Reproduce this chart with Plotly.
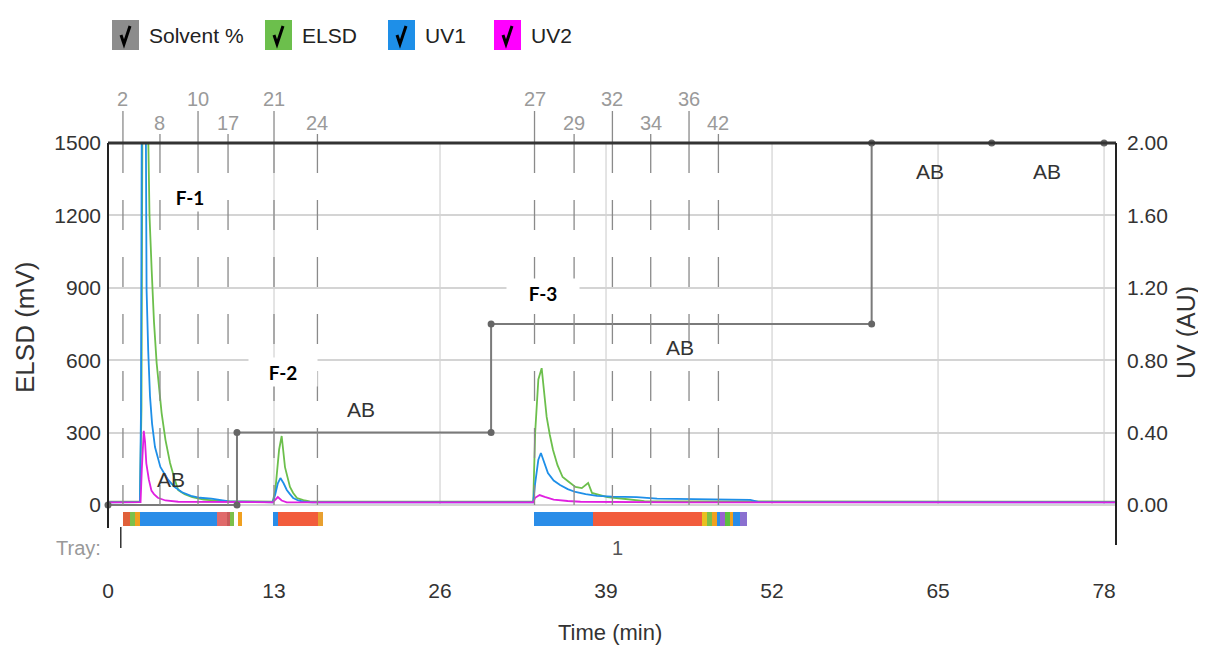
import plotly.graph_objects as go

# ---------------- data ----------------
elsd_t = [0, 1.0, 2.5, 2.62, 2.7, 3.1, 3.25, 3.42, 3.6, 3.81, 4.0, 4.2, 4.5, 4.86, 5.2, 5.5, 6.0, 6.6, 7.5, 9.0,
          12.9, 13.1, 13.4, 13.6, 13.86, 14.05, 14.25, 14.5, 14.8, 15.3, 15.8, 20, 26,
          33.3, 33.45, 33.7, 33.96, 34.1, 34.35, 34.6, 34.85, 35.2, 35.6, 36.1, 36.6, 37.1, 37.4, 37.6, 37.9,
          38.5, 39.1, 40.0, 41.0, 42, 50, 60, 70, 78.9]
elsd_mv = [14, 14, 15, 400, 1700, 1700, 1200, 974, 760, 588, 470, 381, 270, 174, 110, 62, 45, 33, 22, 16,
           14, 60, 230, 286, 157, 110, 75, 50, 29, 20, 15, 14, 14,
           14, 300, 520, 567, 500, 365, 290, 228, 165, 116, 95, 75, 70, 85, 91, 50,
           40, 33, 28, 22, 16, 15, 14, 14, 14]

uv1_t = [0, 1.0, 2.5, 2.58, 2.65, 2.95, 3.02, 3.15, 3.29, 3.45, 3.68, 4.1, 4.7, 5.2, 5.8, 6.5, 7.2, 8.1, 8.6, 9.5,
         12.9, 13.1, 13.3, 13.5, 13.75, 14.0, 14.25, 14.5, 14.9, 15.3, 16, 20, 26,
         33.3, 33.45, 33.7, 33.9, 34.1, 34.45, 34.9, 35.4, 36.0, 36.6, 37.4, 38.3, 39.5, 41.4, 43, 46, 49, 50.3,
         51, 60, 70, 78.9]
uv1_au = [0.015, 0.015, 0.016, 0.5, 2.3, 2.3, 1.19, 0.85, 0.60, 0.45, 0.32, 0.21, 0.14, 0.10, 0.07, 0.05, 0.04,
          0.035, 0.03, 0.02,
          0.015, 0.06, 0.12, 0.149, 0.12, 0.083, 0.06, 0.039, 0.025, 0.018, 0.015, 0.015, 0.015,
          0.015, 0.12, 0.25, 0.287, 0.25, 0.177, 0.135, 0.11, 0.088, 0.072, 0.06, 0.05, 0.046, 0.044, 0.035,
          0.032, 0.03, 0.028, 0.016, 0.015, 0.015, 0.015]

uv2_t = [0, 1.0, 2.55, 2.65, 2.8, 2.9, 3.0, 3.2, 3.4, 3.6, 3.9, 4.5, 5.5,
         12.9, 13.1, 13.3, 13.6, 14.0, 20,
         33.3, 33.45, 33.8, 34.2, 34.9, 36.0, 37.0, 45, 60, 78.9]
uv2_au = [0.015, 0.015, 0.016, 0.2, 0.41, 0.35, 0.23, 0.14, 0.08, 0.06, 0.04, 0.025, 0.018,
          0.015, 0.03, 0.044, 0.025, 0.015, 0.015,
          0.015, 0.04, 0.055, 0.045, 0.03, 0.022, 0.018, 0.015, 0.015, 0.015]

solvent_t = [0, 10.1, 10.1, 30.0, 30.0, 59.8, 59.8, 69.2, 78.0]
solvent_pct = [0, 0, 20, 20, 50, 50, 100, 100, 100]

step_labels = ["AB", "AB", "AB", "AB", "AB"]
step_label_t = [4.9, 19.8, 44.8, 64.4, 73.5]
step_label_mv = [104, 394, 651, 1380, 1380]

fraction_ids = ["2", "8", "10", "17", "21", "24", "27", "29", "32", "34", "36", "42"]
fraction_t = [1.17, 4.07, 7.05, 9.4, 13.0, 16.4, 33.4, 36.5, 39.5, 42.5, 45.5, 47.8]

peak_labels = ["F-1", "F-2", "F-3"]
peak_label_t = [6.4, 13.7, 34.1]
peak_label_mv = [1276, 551, 878]

tray_start = [1.17, 1.72, 2.11, 2.51, 8.54, 9.32, 9.55, 10.18,
              12.92, 13.31, 16.44,
              33.36, 37.98, 46.52, 46.91, 47.30, 47.69, 47.93, 48.32, 48.71, 48.94, 49.49]
tray_end = [1.72, 2.11, 2.51, 8.54, 9.32, 9.55, 9.87, 10.49,
            13.31, 16.44, 16.84,
            37.98, 46.52, 46.91, 47.30, 47.69, 47.93, 48.32, 48.71, 48.94, 49.49, 50.04]
tray_color = ["#e0603a", "#7cc04a", "#f0a020", "#2a8de8", "#e06a6a", "#c85a5a", "#7cc04a", "#f0a020",
              "#2a8de8", "#f25c3c", "#e8a030",
              "#2a8de8", "#f25c3c", "#e8c020", "#7cc04a", "#f0a020", "#2a8de8", "#9a60d0", "#5cc040",
              "#f0a020", "#2a8de8", "#8a70d0"]
tray_number = "1"
tray_number_t = 39.9
tray_tick_t = 1.0

x_ticks = [0, 13, 26, 39, 52, 65, 78]
elsd_ticks = [0, 300, 600, 900, 1200, 1500]
uv_ticks = [0, 0.4, 0.8, 1.2, 1.6, 2.0]

legend_names = ["Solvent %", "ELSD", "UV1", "UV2"]
legend_colors = ["#8c8c8c", "#6cbf4c", "#1e8fe8", "#ff00ff"]

# ---------------- layout geometry ----------------
# the page body adds an 8px margin, so screen px = figure px + 8
OFF = 8
W, H = 1206 - OFF, 645 - OFF
SL, SR, ST, SB = 108, 1116, 143, 572          # plot area in screen pixels
L, R, T, B = SL - OFF, SR - OFF, ST - OFF, SB - OFF
ZERO_PX = 505                                  # screen px of the zero line
X_MAX = (SR - SL) / 12.77


def pxx(spx):
    return (spx - SL) / (SR - SL)


def pxy(spy):
    return (SB - spy) / (SB - ST)


below = (SB - ZERO_PX) / (ZERO_PX - ST)
elsd_range = [-below * 1500, 1500]
uv_range = [-below * 2.0, 2.0]
sol_range = [-below * 100, 100]

FONT = "Liberation Sans, Arial, sans-serif"

fig = go.Figure()

# tray bar (horizontal bars in ELSD units)
mv_per_px = 1500 / (ZERO_PX - ST)
bar_top_mv = -(512 - ZERO_PX) * mv_per_px
bar_bot_mv = -(526 - ZERO_PX) * mv_per_px
fig.add_trace(go.Bar(
    orientation="h",
    base=tray_start,
    x=[e - s for s, e in zip(tray_start, tray_end)],
    y=[(bar_top_mv + bar_bot_mv) / 2] * len(tray_start),
    width=bar_top_mv - bar_bot_mv,
    marker=dict(color=tray_color, line=dict(width=0)),
    showlegend=False, hoverinfo="skip", yaxis="y",
))

fig.add_trace(go.Scatter(x=solvent_t, y=solvent_pct, yaxis="y3", mode="lines+markers",
                         line=dict(color="#7a7a7a", width=2),
                         marker=dict(color="#666666", size=7), showlegend=False, cliponaxis=False))
fig.add_trace(go.Scatter(x=elsd_t, y=elsd_mv, yaxis="y", mode="lines",
                         line=dict(color="#6cbf4c", width=1.8), showlegend=False))
fig.add_trace(go.Scatter(x=uv1_t, y=uv1_au, yaxis="y2", mode="lines",
                         line=dict(color="#1e8fe8", width=1.8), showlegend=False))
fig.add_trace(go.Scatter(x=uv2_t, y=uv2_au, yaxis="y2", mode="lines",
                         line=dict(color="#e020e0", width=1.8), showlegend=False))

shapes = []
for t in x_ticks[1:]:
    shapes.append(dict(type="line", xref="x", yref="y", x0=t, x1=t, y0=0, y1=1500,
                       line=dict(color="#d2d2d2", width=1.2), layer="below"))

annotations = []


def ann(**kw):
    kw.setdefault("showarrow", False)
    kw.setdefault("xanchor", "center")
    kw.setdefault("yanchor", "middle")
    annotations.append(kw)


# fraction markers
for i, (fid, ft) in enumerate(zip(fraction_ids, fraction_t)):
    upper = (i % 2 == 0)
    top_px = 111 if upper else 134
    lab_px = 99 if upper else 123
    shapes.append(dict(type="line", xref="x", yref="paper", x0=ft, x1=ft, y0=pxy(top_px), y1=1.0,
                       line=dict(color="#8a8a8a", width=1.3)))
    shapes.append(dict(type="line", xref="x", yref="paper", x0=ft, x1=ft, y0=1.0, y1=pxy(ZERO_PX),
                       line=dict(color="#8a8a8a", width=1.3, dash="30px,27px")))
    ann(x=ft, y=pxy(lab_px), xref="x", yref="paper", text=fid,
        font=dict(family=FONT, size=20, color="#9a9a9a"))

# frame
shapes.append(dict(type="line", xref="paper", yref="paper", x0=0, x1=1, y0=1, y1=1,
                   line=dict(color="#333333", width=3)))
shapes.append(dict(type="line", xref="paper", yref="paper", x0=0, x1=0, y0=1, y1=pxy(528),
                   line=dict(color="#222222", width=2)))
shapes.append(dict(type="line", xref="paper", yref="paper", x0=1, x1=1, y0=1, y1=pxy(545),
                   line=dict(color="#222222", width=2)))
shapes.append(dict(type="line", xref="x", yref="paper", x0=tray_tick_t, x1=tray_tick_t,
                   y0=pxy(527), y1=pxy(548), line=dict(color="#333333", width=1.5)))

# legend (coloured boxes with check marks)
leg_box_x = [112, 265, 388, 494]
for name, col, bx in zip(legend_names, legend_colors, leg_box_x):
    shapes.append(dict(type="rect", xref="paper", yref="paper", x0=pxx(bx), x1=pxx(bx + 27),
                       y0=pxy(50), y1=pxy(20), fillcolor=col, line=dict(width=0)))
    chk = "M {:.5f},{:.5f} L {:.5f},{:.5f} L {:.5f},{:.5f}".format(
        pxx(bx + 9), pxy(35), pxx(bx + 12), pxy(44), pxx(bx + 18), pxy(26))
    shapes.append(dict(type="path", xref="paper", yref="paper", path=chk,
                       line=dict(color="#000000", width=3)))
    ann(x=pxx(bx + 35), y=pxy(36), xref="paper", yref="paper", text=name, xanchor="left",
        font=dict(family=FONT, size=21, color="#222222"))

# solvent step labels
for txt, t, v in zip(step_labels, step_label_t, step_label_mv):
    ann(x=t, y=v, xref="x", yref="y", text=txt, font=dict(family=FONT, size=21, color="#333333"))

# fraction-pool labels
for txt, t, v, w in zip(peak_labels, peak_label_t, peak_label_mv, [40, 66, 70]):
    ann(x=t, y=v, xref="x", yref="y", text="<b>" + txt + "</b>", bgcolor="#ffffff", width=w, height=26,
        font=dict(family="Lato, Open Sans, sans-serif", size=19, color="#000000"))

# tray labels
ann(x=pxx(78), y=pxy(548), xref="paper", yref="paper", text="Tray:",
    font=dict(family=FONT, size=20, color="#999999"))
ann(x=tray_number_t, y=pxy(548), xref="x", yref="paper", text=tray_number,
    font=dict(family=FONT, size=20, color="#555555"))

# axis titles
ann(x=pxx(610), y=pxy(632), xref="paper", yref="paper", text="Time (min)",
    font=dict(family=FONT, size=22, color="#333333"))
ann(x=pxx(25), y=pxy(328), xref="paper", yref="paper", text="ELSD (mV)", textangle=-90,
    font=dict(family=FONT, size=26, color="#333333"))
ann(x=pxx(1186), y=pxy(333), xref="paper", yref="paper", text="UV (AU)", textangle=-90,
    font=dict(family=FONT, size=25, color="#333333"))

fig.update_layout(
    width=W, height=H,
    margin=dict(l=L, r=W - R, t=T, b=H - B, pad=0),
    paper_bgcolor="#ffffff", plot_bgcolor="#ffffff",
    showlegend=False,
    xaxis=dict(range=[0, X_MAX], tickvals=x_ticks, showgrid=False, zeroline=False, showline=False,
               ticks="", tickfont=dict(family=FONT, size=21, color="#333333"), ticklabelstandoff=4),
    yaxis=dict(range=elsd_range, tickvals=elsd_ticks, showgrid=True, gridcolor="#d4d4d4", gridwidth=1.5,
               zeroline=False, showline=False, ticks="",
               tickfont=dict(family=FONT, size=21, color="#333333"), ticklabelstandoff=6),
    yaxis2=dict(range=uv_range, tickvals=uv_ticks, tickformat=".2f", overlaying="y", side="right",
                showgrid=False, zeroline=False, showline=False, ticks="",
                tickfont=dict(family=FONT, size=21, color="#333333"), ticklabelstandoff=10),
    yaxis3=dict(range=sol_range, overlaying="y", visible=False),
    shapes=shapes,
    annotations=annotations,
    bargap=0,
)

fig.write_html("out.html")
